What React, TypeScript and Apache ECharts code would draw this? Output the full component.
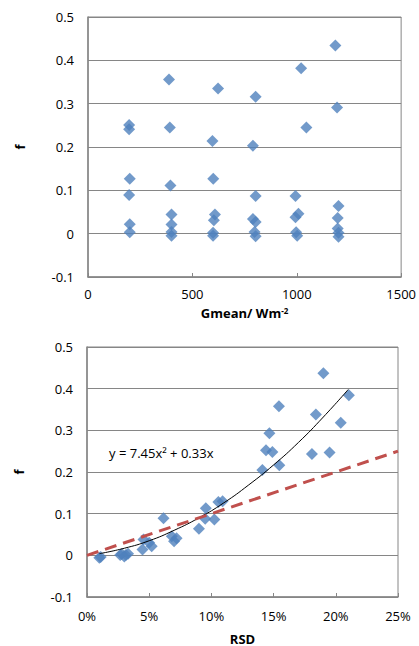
import React, { useEffect, useRef } from "react";
import * as echarts from "echarts";

// Top chart: Gmean (W m^-2) vs f
const topG = [197, 197, 388, 392, 623, 596, 803, 790, 1021, 1046, 1185, 1193,
  200, 197, 200, 200,
  395, 400, 400, 400, 400,
  600, 608, 603, 599, 599,
  803, 790, 803, 798, 803,
  994, 994, 1008, 997, 1002,
  1200, 1196, 1196, 1200, 1200];
const topF = [0.251, 0.241, 0.356, 0.245, 0.335, 0.214, 0.316, 0.203, 0.382, 0.245, 0.434, 0.291,
  0.127, 0.089, 0.022, 0.003,
  0.111, 0.044, 0.021, 0.004, -0.005,
  0.127, 0.044, 0.031, 0.002, -0.005,
  0.087, 0.034, 0.027, 0.004, -0.006,
  0.087, 0.038, 0.046, 0.003, -0.005,
  0.064, 0.036, 0.012, 0.002, -0.007];

// Bottom chart: RSD vs f
const rsd = [0.0099, 0.011, 0.0267, 0.028, 0.0313, 0.030, 0.033, 0.0454, 0.0446, 0.052, 0.050, 0.0615,
  0.0682, 0.072, 0.070, 0.090, 0.0955, 0.095, 0.1024, 0.1056, 0.109,
  0.141, 0.1546, 0.1439, 0.149, 0.1466, 0.1543, 0.184, 0.1808, 0.195, 0.204, 0.190, 0.2105];
const rsdF = [-0.006, -0.004, 0.001, 0.003, 0.001, -0.003, 0.004, 0.038, 0.014, 0.022, 0.030, 0.089,
  0.046, 0.041, 0.034, 0.064, 0.113, 0.088, 0.086, 0.128, 0.130,
  0.205, 0.216, 0.252, 0.248, 0.293, 0.358, 0.338, 0.243, 0.247, 0.318, 0.437, 0.384];

// Trendline y = 7.45x^2 + 0.33x
const trendX = [0.01, 0.03, 0.05, 0.07, 0.09, 0.11, 0.13, 0.15, 0.17, 0.19, 0.21];
const trendY = [0.004, 0.017, 0.035, 0.060, 0.090, 0.126, 0.169, 0.217, 0.271, 0.332, 0.398];

// 1:1 reference line (red dashed)
const refX = [0, 0.25];
const refY = [0, 0.25];

const equationText = "y = 7.45x² + 0.33x";

const FONT = "Open Sans";
const GRAY = "#868686";
const BLUE = "#4F81BD";

export default function App() {
  const ref = useRef<HTMLDivElement>(null);
  useEffect(() => {
    if (!ref.current) return;
    const chart = echarts.init(ref.current, undefined, { renderer: "svg" });
    const yLabel = (v: number) => String(Number(v.toFixed(1)));
    const axisText = { color: "#000", fontFamily: FONT, fontSize: 13 };
    const yAxisCommon = {
      type: "value",
      min: -0.1,
      max: 0.5,
      interval: 0.1,
      name: "f",
      nameLocation: "middle",
      nameRotate: 90,
      nameGap: 62,
      nameTextStyle: { color: "#000", fontFamily: FONT, fontSize: 13, fontWeight: "bold" },
      axisLine: { show: true, lineStyle: { color: GRAY, width: 1.5 } },
      axisTick: { show: false },
      axisLabel: { ...axisText, formatter: yLabel, margin: 14 },
      splitLine: { show: true, lineStyle: { color: GRAY, width: 1 } },
    };
    chart.setOption({
      animation: false,
      backgroundColor: "#fff",
      grid: [
        { left: 88, right: 17, top: 17, height: 260, show: true, borderColor: GRAY, borderWidth: 1 },
        { left: 87, right: 21, top: 347, height: 251, show: true, borderColor: GRAY, borderWidth: 1 },
      ],
      xAxis: [
        {
          type: "value",
          gridIndex: 0,
          min: 0,
          max: 1500,
          interval: 500,
          name: "Gmean/ Wm{sup|-2}",
          nameLocation: "middle",
          nameGap: 29,
          nameTextStyle: {
            color: "#000", fontFamily: FONT, fontSize: 13, fontWeight: "bold",
            rich: { sup: { fontSize: 8, fontWeight: "bold", fontFamily: FONT, color: "#000", verticalAlign: "top", padding: [0, 0, 6, 0] } },
          },
          axisLine: { show: true, onZero: false, lineStyle: { color: GRAY, width: 1.5 } },
          axisTick: { show: true, inside: true, length: 4, lineStyle: { color: GRAY } },
          axisLabel: { ...axisText, margin: 10, formatter: (v: number) => String(v) },
          splitLine: { show: false },
        },
        {
          type: "value",
          gridIndex: 1,
          min: 0,
          max: 0.25,
          interval: 0.05,
          name: "RSD",
          nameLocation: "middle",
          nameGap: 35,
          nameTextStyle: { color: "#000", fontFamily: FONT, fontSize: 13, fontWeight: "bold" },
          axisLine: { show: true, onZero: false, lineStyle: { color: GRAY, width: 1.5 } },
          axisTick: { show: true, inside: true, length: 4, lineStyle: { color: GRAY } },
          axisLabel: { ...axisText, margin: 12, formatter: (v: number) => Math.round(v * 100) + "%" },
          splitLine: { show: false },
        },
      ],
      yAxis: [
        { ...yAxisCommon, gridIndex: 0 },
        { ...yAxisCommon, gridIndex: 1 },
      ],
      series: [
        {
          type: "scatter",
          xAxisIndex: 0,
          yAxisIndex: 0,
          symbol: "diamond",
          symbolSize: 12,
          itemStyle: { color: BLUE },
          data: topG.map((g, i) => [g, topF[i]]),
        },
        {
          type: "scatter",
          xAxisIndex: 1,
          yAxisIndex: 1,
          symbol: "diamond",
          symbolSize: 12,
          itemStyle: { color: BLUE },
          data: rsd.map((x, i) => [x, rsdF[i]]),
        },
        {
          type: "line",
          xAxisIndex: 1,
          yAxisIndex: 1,
          smooth: true,
          showSymbol: false,
          symbol: "none",
          z: 3,
          lineStyle: { color: "#000", width: 1 },
          data: trendX.map((x, i) => [x, trendY[i]]),
        },
        {
          type: "line",
          xAxisIndex: 1,
          yAxisIndex: 1,
          showSymbol: false,
          symbol: "none",
          z: 3,
          lineStyle: { color: "#C0504D", width: 3, type: [12, 7] },
          data: refX.map((x, i) => [x, refY[i]]),
        },
      ],
      graphic: [
        {
          type: "text",
          left: 109,
          top: 446,
          style: { text: equationText, fill: "#000", font: `13px "${FONT}"` },
        },
      ],
    });
    return () => chart.dispose();
  }, []);
  return <div ref={ref} style={{ position: "absolute", left: 0, top: 0, width: 419, height: 646 }} />;
}
